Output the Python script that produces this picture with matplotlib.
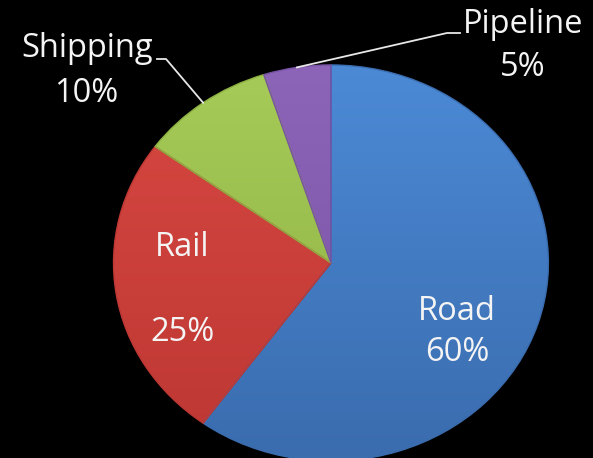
import numpy as np
import matplotlib.pyplot as plt
from matplotlib.colors import LinearSegmentedColormap

# transport mode shares
modes = ['Road', 'Rail', 'Shipping', 'Pipeline']
shares = [60, 25, 10, 5]

# light (top) and dark (bottom) tone for each slice
tops = ['#4c8ad6', '#d84842', '#a6cb58', '#8c64b8']
bottoms = ['#3a6cae', '#bd3733', '#8eb043', '#7852a4']

W, H = 593, 458


def px(x, y):
    # pixel position -> figure fraction
    return x / W, 1 - y / H


fig = plt.figure(figsize=(W / 100, H / 100), dpi=100, facecolor='black')
ax = fig.add_axes([0, 0, 1, 1])
ax.set_facecolor('black')

wedges, _ = ax.pie(shares, startangle=90, counterclock=False,
                   colors=tops,
                   wedgeprops=dict(edgecolor='none', linewidth=0))
ax.set_aspect('auto')
ax.set_xlim(-1.522, 1.205)
ax.set_ylim(-0.985, 1.328)
ax.axis('off')

# vertical gradient fill clipped to each wedge, plus a thin bevel edge
grad = np.linspace(0, 1, 256).reshape(-1, 1)
for w, c1, c2 in zip(wedges, tops, bottoms):
    cmap = LinearSegmentedColormap.from_list('g', [c2, c1])
    im = ax.imshow(grad, cmap=cmap, extent=(-1, 1, -1, 1), origin='lower',
                   aspect='auto', zorder=1, interpolation='bicubic')
    im.set_clip_path(w)
    w.set_facecolor('none')
    w.set_edgecolor(c2)
    w.set_linewidth(1.0)
    w.set_zorder(2)

txt = dict(color='#f4f4f4', fontsize=23.5, family=['Open Sans', 'DejaVu Sans'],
           ha='center', va='baseline', transform=fig.transFigure)

# label baselines: (name x, name y, pct x, pct y) in pixels
label_pos = {
    'Road': (457, 320, 457, 361),
    'Rail': (182, 256, 182, 341),
    'Shipping': (87, 57, 86, 102),
    'Pipeline': (523, 33, 523, 76),
}
for m, s in zip(modes, shares):
    nx, ny, qx, qy = label_pos[m]
    fig.text(*px(nx, ny), m, **txt)
    fig.text(*px(qx, qy), f'{s}%', **txt)

# leader lines from the rim (mid angle of the slice) to the outside labels
elbows = {'Shipping': ((166, 59), (157, 59)),
          'Pipeline': ((447, 33), (460, 33))}
for w, m in zip(wedges, modes):
    if m not in elbows:
        continue
    mid = np.deg2rad((w.theta1 + w.theta2) / 2)
    rim = ax.transData.transform((np.cos(mid), np.sin(mid)))
    rim = fig.transFigure.inverted().transform(rim)
    (ex, ey), (tx, ty) = elbows[m]
    e, t = px(ex, ey), px(tx, ty)
    fig.add_artist(plt.Line2D([rim[0], e[0], t[0]], [rim[1], e[1], t[1]],
                              color='#e8e8e8', lw=1.3, transform=fig.transFigure))

fig.savefig('out.png', dpi=100, facecolor='black')
